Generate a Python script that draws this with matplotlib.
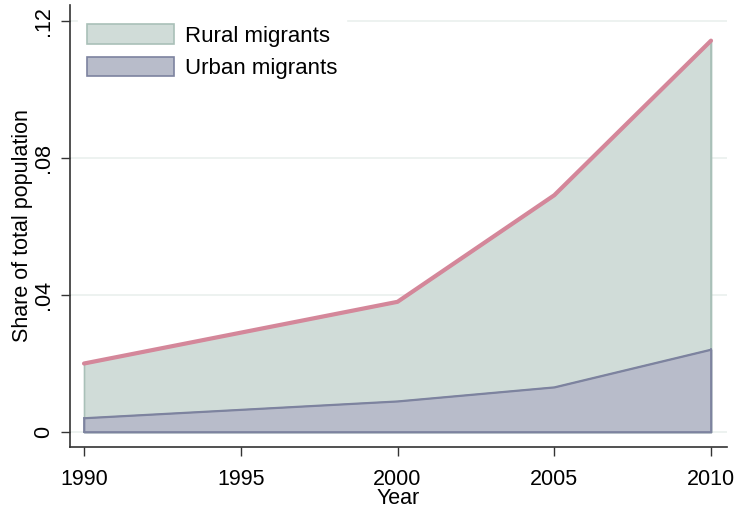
import matplotlib
matplotlib.use("Agg")
import matplotlib.pyplot as plt
from matplotlib.patches import Patch

years = [1990, 2000, 2005, 2010]
urban = [0.0041, 0.0090, 0.0131, 0.0241]
total = [0.0200, 0.0380, 0.0691, 0.1142]
yticks = [0, 0.04, 0.08, 0.12]
ytick_labels = ["0", ".04", ".08", ".12"]
xticks = [1990, 1995, 2000, 2005, 2010]

plt.rcParams['font.family'] = ['Liberation Sans', 'DejaVu Sans']

fig = plt.figure(figsize=(7.4, 5.11), dpi=100)
ax = fig.add_axes([70/740, 64/511, 657/740, 442/511])

rural_fill = "#d0dcd8"
rural_edge = "#a9c0b8"
urban_fill = "#b8bcca"
urban_edge = "#7d839f"
line_col = "#d4879a"

ax.fill_between(years, 0, total, facecolor=rural_fill, edgecolor=rural_edge, linewidth=1.2, zorder=2)
ax.plot([years[-1], years[-1]], [0, total[-1]], color=rural_edge, lw=1.2, zorder=2)
ax.fill_between(years, 0, urban, facecolor=urban_fill, edgecolor=urban_edge, linewidth=1.2, zorder=3)
ax.plot(years, urban, color=urban_edge, lw=1.2, zorder=3)
ax.plot([years[0], years[0]], [0, urban[0]], color=urban_edge, lw=1.2, zorder=3)
ax.plot([years[-1], years[-1]], [0, urban[-1]], color=urban_edge, lw=1.2, zorder=3)
ax.plot([years[0], years[-1]], [0, 0], color=urban_edge, lw=1.2, zorder=3)
ax.plot(years, total, color=line_col, lw=3, zorder=4, solid_capstyle='round')

ax.set_xlim(1989.553, 2010.51)
ax.set_ylim(-0.00436, 0.1246)

for yv in yticks:
    ax.axhline(yv, color="#eaf0ee", lw=1.2, zorder=1)

ax.set_yticks(yticks)
ax.set_yticklabels(ytick_labels, rotation=90, va='center')
ax.set_xticks(xticks)
ax.tick_params(axis='both', direction='out', length=6.5, width=1, color='#333333', labelsize=15.5)
ax.tick_params(axis='y', pad=5)
ax.tick_params(axis='x', pad=9)

for s in ['top', 'right']:
    ax.spines[s].set_visible(False)
for s in ['left', 'bottom']:
    ax.spines[s].set_color('#333333')
    ax.spines[s].set_linewidth(1.2)

ax.set_ylabel("Share of total population", fontsize=15.5, labelpad=0)
ax.set_xlabel("Year", fontsize=15.5, labelpad=-1)

handles = [Patch(facecolor=rural_fill, edgecolor=rural_edge, linewidth=1.2, label="Rural migrants"),
           Patch(facecolor=urban_fill, edgecolor=urban_edge, linewidth=1.2, label="Urban migrants")]
leg = ax.legend(handles=handles, loc='upper left', bbox_to_anchor=(0.0122, 0.977), frameon=True,
                fontsize=16, handlelength=3.9, handleheight=1.0, handletextpad=0.5,
                labelspacing=0.45, borderaxespad=0.0, borderpad=0.4)
leg.get_frame().set_facecolor('white')
leg.get_frame().set_edgecolor('white')
leg.get_frame().set_alpha(1)
leg.get_frame().set_boxstyle('square', pad=0)
leg.set_zorder(5)

fig.savefig("out.png", dpi=100)
